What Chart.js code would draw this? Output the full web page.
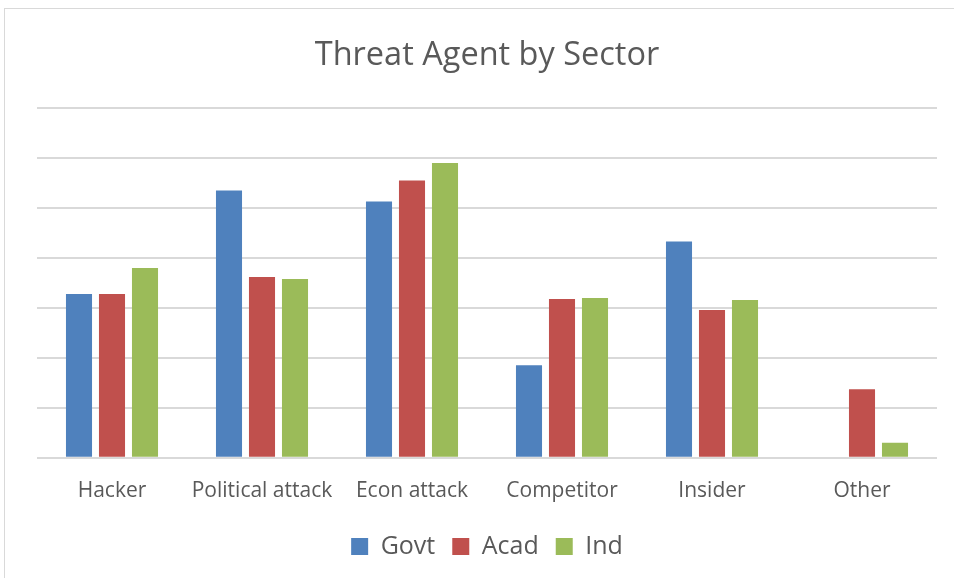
<!DOCTYPE html>
<html>
<head>
<meta charset="utf-8">
<script src="https://cdn.jsdelivr.net/npm/chart.js@4"></script>
<style>
  html, body { margin: 0; padding: 0; background: #fff; overflow: hidden; }
  #wrap { position: relative; width: 954px; height: 578px; }
  #frame { position: absolute; left: 4px; top: 8px; width: 960px; height: 600px; border: 1px solid #d9d9d9; box-sizing: border-box; }
  canvas { position: absolute; left: 0; top: 0; }
</style>
</head>
<body>
<div id="wrap">
  <div id="frame"></div>
  <canvas id="sectorChart" width="954" height="578"></canvas>
</div>
<script>
const categories = ["Hacker", "Political attack", "Econ attack", "Competitor", "Insider", "Other"];
const govt = [3.28, 5.35, 5.13, 1.85, 4.33, 0];
const acad = [3.28, 3.62, 5.55, 3.18, 2.96, 1.37];
const ind = [3.80, 3.58, 5.90, 3.20, 3.16, 0.30];

const textColor = "#595959";
const fontFamily = "'Open Sans', 'Noto Sans', sans-serif";

const ctx = document.getElementById("sectorChart");

new Chart(ctx, {
  type: "bar",
  data: {
    labels: categories,
    datasets: [
      { label: "Govt", data: govt, backgroundColor: "#4F81BD" },
      { label: "Acad", data: acad, backgroundColor: "#C0504D" },
      { label: "Ind", data: ind, backgroundColor: "#9BBB59" },
    ],
  },
  options: {
    responsive: false,
    animation: false,
    layout: {
      padding: { left: 37, right: 17, top: 0, bottom: 9 },
    },
    datasets: {
      bar: {
        categoryPercentage: 0.66,
        barPercentage: 0.79,
      },
    },
    scales: {
      x: {
        grid: { display: false },
        border: { display: false },
        ticks: {
          color: textColor,
          font: { family: fontFamily, size: 21 },
          padding: 13,
        },
      },
      y: {
        min: 0,
        max: 7,
        ticks: { display: false, stepSize: 1 },
        grid: { color: "#d9d9d9", lineWidth: 2, drawTicks: false },
        border: { display: false },
      },
    },
    plugins: {
      title: {
        display: true,
        text: "Threat Agent by Sector",
        color: textColor,
        font: { family: fontFamily, size: 32.5, weight: "normal" },
        padding: { top: 36, bottom: 33 },
      },
      legend: {
        position: "bottom",
        labels: {
          color: textColor,
          font: { family: fontFamily, size: 25 },
          boxWidth: 17,
          boxHeight: 17,
          padding: 17,
        },
      },
      tooltip: { enabled: false },
    },
  },
});
</script>
</body>
</html>
